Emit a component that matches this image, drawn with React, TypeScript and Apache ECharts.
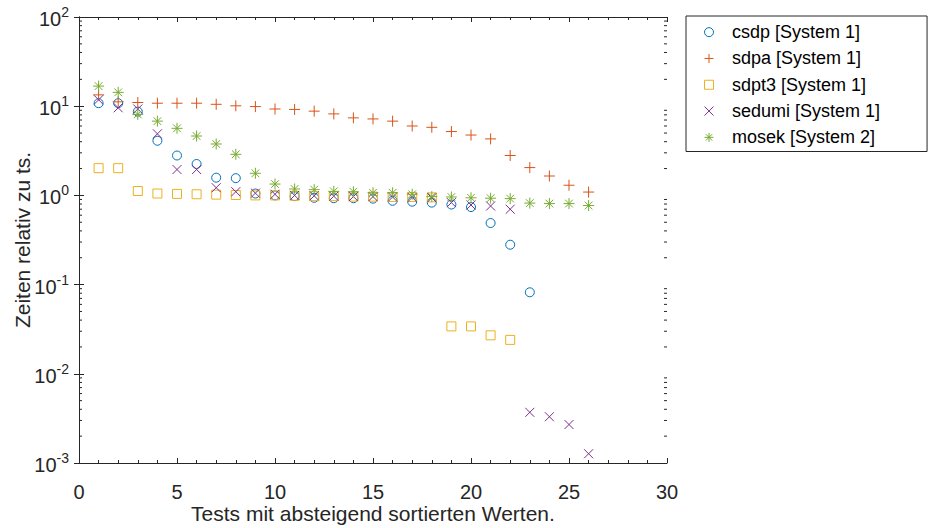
import React, { useEffect, useRef } from "react";
import * as echarts from "echarts";

// Relative run times per test (tests sorted by descending value), one list per solver
const csdp = [10.8, 10.8, 8.7, 4.1, 2.8, 2.25, 1.58, 1.56, 1.05, 1.0, 0.98, 0.94, 0.93, 0.93, 0.92, 0.87, 0.85, 0.83, 0.79, 0.74, 0.49, 0.28, 0.082];
const sdpa = [13.4, 11.2, 11.0, 10.8, 10.8, 10.8, 10.5, 10.1, 9.9, 9.3, 9.2, 8.8, 8.2, 7.4, 7.2, 6.8, 6.0, 5.8, 5.2, 4.75, 4.3, 2.8, 2.05, 1.65, 1.3, 1.09];
const sdpt3 = [2.02, 2.02, 1.12, 1.05, 1.04, 1.03, 1.02, 1.01, 1.0, 1.0, 0.99, 0.98, 0.98, 0.97, 0.97, 0.96, 0.96, 0.95, 0.034, 0.034, 0.027, 0.024];
const sedumi = [11.8, 9.6, 9.3, 4.9, 1.95, 1.95, 1.22, 1.1, 1.06, 1.03, 1.0, 0.99, 0.98, 0.97, 0.97, 0.96, 0.95, 0.94, 0.83, 0.78, 0.76, 0.7, 0.0037, 0.0033, 0.0027, 0.00127];
const mosek = [16.8, 14.3, 8.1, 6.8, 5.65, 4.63, 3.77, 2.89, 1.77, 1.34, 1.18, 1.16, 1.11, 1.1, 1.07, 1.07, 1.03, 0.97, 0.96, 0.94, 0.93, 0.92, 0.82, 0.81, 0.81, 0.77];

const seriesNames = [
  "csdp [System 1]",
  "sdpa [System 1]",
  "sdpt3 [System 1]",
  "sedumi [System 1]",
  "mosek [System 2]",
];
const seriesColors = ["#0072BD", "#D95319", "#EDB120", "#7E2F8E", "#77AC30"];

// Axis ranges and tick settings
const xMin = 0;
const xMax = 30;
const xInterval = 5;
const yMin = 0.001;
const yMax = 100;
const minorMantissas = [2, 3, 4, 5, 6, 7, 8, 9];
const decades = [0.001, 0.01, 0.1, 1, 10];

const xTitle = "Tests mit absteigend sortierten Werten.";
const yTitle = "Zeiten relativ zu ts.";

const FONT = "'Liberation Sans', Arial, Helvetica, sans-serif";
const AXIS_COLOR = "#262626";

// Outline-only marker shapes
const SYM_CIRCLE = "path://M10,5A5,5 0 1 1 0,5A5,5 0 1 1 10,5Z";
const SYM_PLUS = "path://M0,5L10,5M5,0L5,10";
const SYM_SQUARE = "path://M0,0L10,0L10,10L0,10Z";
const SYM_CROSS = "path://M0,0L10,10M0,10L10,0";
const SYM_STAR = "path://M0,5L10,5M5,0L5,10M1.5,1.5L8.5,8.5M1.5,8.5L8.5,1.5";

const symbols = [SYM_CIRCLE, SYM_PLUS, SYM_SQUARE, SYM_CROSS, SYM_STAR];
const symbolSizes = [9, 11, 9, 9, 11];
const allValues = [csdp, sdpa, sdpt3, sedumi, mosek];

export default function App() {
  const ref = useRef<HTMLDivElement>(null);

  useEffect(() => {
    if (!ref.current) return;
    const chart = echarts.init(ref.current, null, { renderer: "svg" });

    const minorTicks: number[][] = [];
    decades.forEach((d) => minorMantissas.forEach((m) => minorTicks.push([xMin, m * d])));

    const scatterSeries = allValues.map((vals, k) => ({
      name: seriesNames[k],
      type: "scatter",
      xAxisIndex: 0,
      yAxisIndex: 0,
      data: vals.map((v, i) => [i + 1, v]),
      symbol: symbols[k],
      symbolSize: symbolSizes[k],
      symbolKeepAspect: true,
      itemStyle: {
        color: "rgba(0,0,0,0)",
        borderColor: seriesColors[k],
        borderWidth: 1,
        opacity: 1,
      },
      emphasis: { disabled: true },
      z: 3,
    }));

    const tickSide = (show: boolean, position: string) => ({
      axisLine: { show: true, lineStyle: { color: AXIS_COLOR, width: 1 } },
      axisTick: { show: true, inside: true, length: 5, lineStyle: { color: AXIS_COLOR, width: 1 } },
      axisLabel: { show, color: AXIS_COLOR },
      splitLine: { show: false },
      position,
    });

    chart.setOption({
      animation: false,
      backgroundColor: "#ffffff",
      textStyle: { fontFamily: FONT },
      grid: { left: 79, top: 17, right: 262, bottom: 65, containLabel: false, outerBoundsMode: "none" },
      legend: {
        data: seriesNames,
        orient: "vertical",
        left: 686,
        top: 16,
        itemWidth: 36,
        itemHeight: 9,
        itemGap: 0,
        padding: [3, 47, 1, 18],
        borderColor: AXIS_COLOR,
        borderWidth: 1,
        backgroundColor: "#ffffff",
        selectedMode: false,
        itemStyle: { borderWidth: 1 },
        textStyle: { fontFamily: FONT, fontSize: 18, color: "#000000", lineHeight: 26.3, padding: [0, 0, 0, 0] },
      },
      xAxis: [
        {
          type: "value",
          min: xMin,
          max: xMax,
          interval: xInterval,
          ...tickSide(true, "bottom"),
          axisLabel: { show: true, color: AXIS_COLOR, fontSize: 20, fontFamily: FONT, margin: 19 },
          minorTick: { show: true, splitNumber: 5, length: 3, lineStyle: { color: AXIS_COLOR, width: 1 } },
          name: xTitle,
          nameLocation: "middle",
          nameGap: 40,
          nameMoveOverlap: false,
          nameTextStyle: { fontSize: 21, color: AXIS_COLOR, fontFamily: FONT },
        },
        {
          type: "value",
          min: xMin,
          max: xMax,
          interval: xInterval,
          ...tickSide(false, "top"),
          minorTick: { show: true, splitNumber: 5, length: 3, lineStyle: { color: AXIS_COLOR, width: 1 } },
        },
      ],
      yAxis: [
        {
          type: "log",
          logBase: 10,
          min: yMin,
          max: yMax,
          ...tickSide(true, "left"),
          axisLabel: {
            show: true,
            margin: 10,
            formatter: (v: number) => `{b|10}{s|${Math.round(Math.log10(v))}}`,
            rich: {
              b: { fontSize: 20, fontFamily: FONT, color: AXIS_COLOR, verticalAlign: "bottom" },
              s: { fontSize: 14, fontFamily: FONT, color: AXIS_COLOR, verticalAlign: "bottom", padding: [0, 0, 10, 0] },
            },
          },
          name: yTitle,
          nameLocation: "middle",
          nameRotate: 90,
          nameGap: 46,
          nameMoveOverlap: false,
          nameTextStyle: { fontSize: 21, color: AXIS_COLOR, fontFamily: FONT },
        },
        {
          type: "log",
          logBase: 10,
          min: yMin,
          max: yMax,
          ...tickSide(false, "right"),
        },
      ],
      series: [
        ...scatterSeries,
        {
          type: "custom",
          silent: true,
          clip: false,
          xAxisIndex: 0,
          yAxisIndex: 0,
          data: minorTicks,
          encode: { x: 0, y: 1 },
          renderItem: (_params: any, api: any) => {
            const v = api.value(1);
            const l = api.coord([xMin, v]);
            const r = api.coord([xMax, v]);
            const st = { stroke: AXIS_COLOR, lineWidth: 1 };
            return {
              type: "group",
              children: [
                { type: "line", shape: { x1: l[0], y1: l[1], x2: l[0] + 3, y2: l[1] }, style: st },
                { type: "line", shape: { x1: r[0], y1: r[1], x2: r[0] - 3, y2: r[1] }, style: st },
              ],
            };
          },
          z: 4,
        },
      ],
    });

    return () => chart.dispose();
  }, []);

  return (
    <div
      ref={ref}
      style={{ position: "fixed", left: 0, top: 0, width: 929, height: 528, background: "#fff" }}
    />
  );
}
